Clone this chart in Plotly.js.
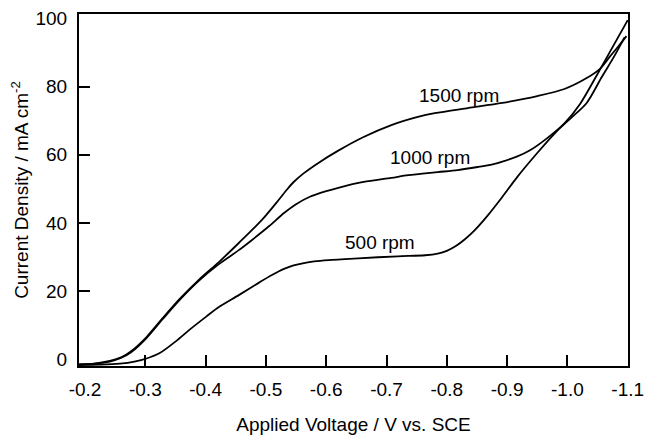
<!DOCTYPE html>
<html><head><meta charset="utf-8">
<script src="https://cdn.plot.ly/plotly-3.0.1.min.js"></script>
<style>html,body{margin:0;padding:0;background:#fff}#chart{width:645px;height:435px}</style>
</head><body><div id="chart"></div>
<script>
// Applied voltage (V vs. SCE) and current density (mA cm^-2) for each rotation rate
const v500 = [-0.190,-0.225,-0.258,-0.282,-0.302,-0.324,-0.351,-0.373,-0.401,-0.422,-0.455,-0.488,-0.510,-0.530,-0.546,-0.563,-0.580,-0.604,-0.653,-0.719,-0.764,-0.785,-0.800,-0.815,-0.830,-0.846,-0.868,-0.892,-0.917,-0.950,-0.983,-1.008,-1.032,-1.057,-1.079,-1.095];
const j500 = [-1.7,-1.6,-1.3,-0.7,0.2,1.8,5.3,8.6,12.5,15.3,18.8,22.4,24.7,26.5,27.5,28.2,28.7,29.1,29.6,30.2,30.5,31.0,31.8,33.2,35.2,37.8,42.2,47.6,53.5,60.5,67.0,71.1,75.2,82.8,89.3,94.5];

const v1000 = [-0.190,-0.216,-0.241,-0.261,-0.277,-0.302,-0.329,-0.357,-0.390,-0.422,-0.455,-0.477,-0.505,-0.530,-0.550,-0.572,-0.600,-0.620,-0.662,-0.708,-0.736,-0.785,-0.818,-0.851,-0.876,-0.892,-0.917,-0.938,-0.966,-0.995,-1.021,-1.049,-1.074,-1.100];
const j1000 = [-1.5,-1.3,-0.7,0.5,2.1,6.2,11.8,17.4,23.2,27.9,32.0,35.0,39.0,42.9,45.5,47.6,49.3,50.3,52.0,53.2,54.0,54.9,55.5,56.4,57.2,58.0,59.5,61.3,64.8,69.2,74.9,83.4,91.3,99.5];

const v1500 = [-0.190,-0.216,-0.241,-0.261,-0.277,-0.302,-0.329,-0.357,-0.390,-0.422,-0.455,-0.493,-0.521,-0.535,-0.546,-0.563,-0.587,-0.620,-0.662,-0.708,-0.752,-0.780,-0.835,-0.892,-0.950,-0.995,-1.032,-1.054,-1.070,-1.085,-1.098];
const j1500 = [-1.5,-1.3,-0.5,0.6,2.4,6.5,12.1,17.7,23.5,28.5,34.1,40.8,46.7,49.8,52.0,54.6,57.6,61.2,65.2,68.7,71.1,72.2,73.7,75.2,77.2,79.3,82.5,85.2,88.7,91.9,94.8];

const seriesNames = ['500 rpm','1000 rpm','1500 rpm'];
const labelV = [-0.689,-0.772,-0.820];
const labelJ = [34.2,59.3,77.5];

const xTickVals = [-0.2,-0.3,-0.4,-0.5,-0.6,-0.7,-0.8,-0.9,-1.0,-1.1];
const xTickText = ['-0.2','-0.3','-0.4','-0.5','-0.6','-0.7','-0.8','-0.9','-1.0','-1.1'];
const xMarkVals = [-0.3,-0.4,-0.5,-0.6,-0.7,-0.8,-0.9,-1.0];
const yTickVals = [0,20,40,60,80,100];
const yTickText = ['0','20','40','60','80','100'];
const yMarkVals = [20,40,60,80];

const xRange = [-0.19,-1.1005];
const yRange = [-2,101.3];
const FONT = '"Liberation Sans", Arial, Helvetica, sans-serif';

const lineStyle = {color:'#000', width:1.8, shape:'spline', smoothing:0.8};
const series = [[v500,j500],[v1000,j1000],[v1500,j1500]];
const traces = series.map((s,i)=>({
  x:s[0], y:s[1], type:'scatter', mode:'lines', name:seriesNames[i],
  line:lineStyle, hoverinfo:'skip', showlegend:false,
  xaxis: i===0 ? 'x2' : 'x', yaxis: i===0 ? 'y2' : 'y'
}));

const annotations = seriesNames.map((n,i)=>({
  x:labelV[i], y:labelJ[i], xref:'x', yref:'y', text:n, showarrow:false,
  font:{family:FONT, size:19, color:'#000'}
}));

const layout = {
  width:645, height:435,
  margin:{l:79, r:17, t:14, b:69},
  paper_bgcolor:'#fff', plot_bgcolor:'#fff',
  font:{family:FONT, size:19, color:'#000'},
  showlegend:false,
  xaxis:{
    range:xRange, autorange:false, showgrid:false, zeroline:false,
    showline:true, mirror:true, linecolor:'#000', linewidth:2,
    ticks:'', tickvals:xTickVals, ticktext:xTickText, ticklabeloverflow:'allow',
    tickfont:{family:FONT, size:19, color:'#000'}, ticklabelstandoff:5,
    title:{text:'Applied Voltage / V vs. SCE', font:{family:FONT, size:19, color:'#000'}, standoff:21}
  },
  yaxis:{
    range:yRange, autorange:false, showgrid:false, zeroline:false,
    showline:true, mirror:true, linecolor:'#000', linewidth:2,
    ticks:'', tickvals:yTickVals, ticktext:yTickText, ticklabeloverflow:'allow',
    tickfont:{family:FONT, size:19, color:'#000'}, ticklabelstandoff:6,
    title:{text:'Current Density / mA cm<sup>-2</sup>', font:{family:FONT, size:19, color:'#000'}, standoff:2}
  },
  xaxis2:{
    overlaying:'x', anchor:'y2', side:'bottom', range:xRange, autorange:false,
    showgrid:false, zeroline:false, showline:false, showticklabels:false,
    ticks:'inside', ticklen:11, tickwidth:2, tickcolor:'#000', tickvals:xMarkVals
  },
  yaxis2:{
    overlaying:'y', anchor:'x2', side:'left', range:yRange, autorange:false,
    showgrid:false, zeroline:false, showline:false, showticklabels:false,
    ticks:'inside', ticklen:11, tickwidth:2, tickcolor:'#000', tickvals:yMarkVals
  },
  annotations:annotations
};

Plotly.newPlot('chart', traces, layout, {staticPlot:true, displayModeBar:false});
</script>
</body></html>
